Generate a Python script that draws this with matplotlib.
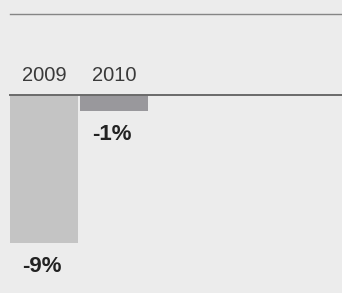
import matplotlib
matplotlib.use("Agg")
import matplotlib.pyplot as plt

years = ["2009", "2010"]
changes = [-9, -1]
labels = ["-9%", "-1%"]
bar_colors = ["#c4c4c4", "#99989c"]

bg = "#ececec"
plt.rcParams["font.family"] = ["Liberation Sans", "DejaVu Sans"]

fig = plt.figure(figsize=(3.42, 2.93), dpi=100, facecolor=bg)
ax = fig.add_axes([0, 0, 1, 1])
ax.set_facecolor(bg)

# pixel scale: ~16.4 px per percent, 70 px per bar slot
ax.set_ylim(-12.04, 5.78)
ax.set_xlim(-0.629, 4.257)

x = list(range(len(years)))
ax.bar(x, changes, width=0.97, color=bar_colors, zorder=2)

# baseline and top rule
ax.axhline(0, xmin=10 / 342, xmax=1, color="#6a6a6a", lw=1.4, zorder=3)
ax.axhline(4.93, xmin=10 / 342, xmax=1, color="#858585", lw=1.0, zorder=3)

for xi, yr in zip(x, years):
    ax.annotate(yr, (xi, 0), xytext=(0, 20), textcoords="offset pixels",
                ha="center", va="center", fontsize=14.5, color="#3a3a3a")

for xi, v, lab in zip(x, changes, labels):
    ax.annotate(lab, (xi, v), xytext=(-2, -23), textcoords="offset pixels",
                ha="center", va="center", fontsize=16, fontweight="bold",
                color="#222222")

ax.axis("off")
fig.savefig("out.png", dpi=100, facecolor=bg)
